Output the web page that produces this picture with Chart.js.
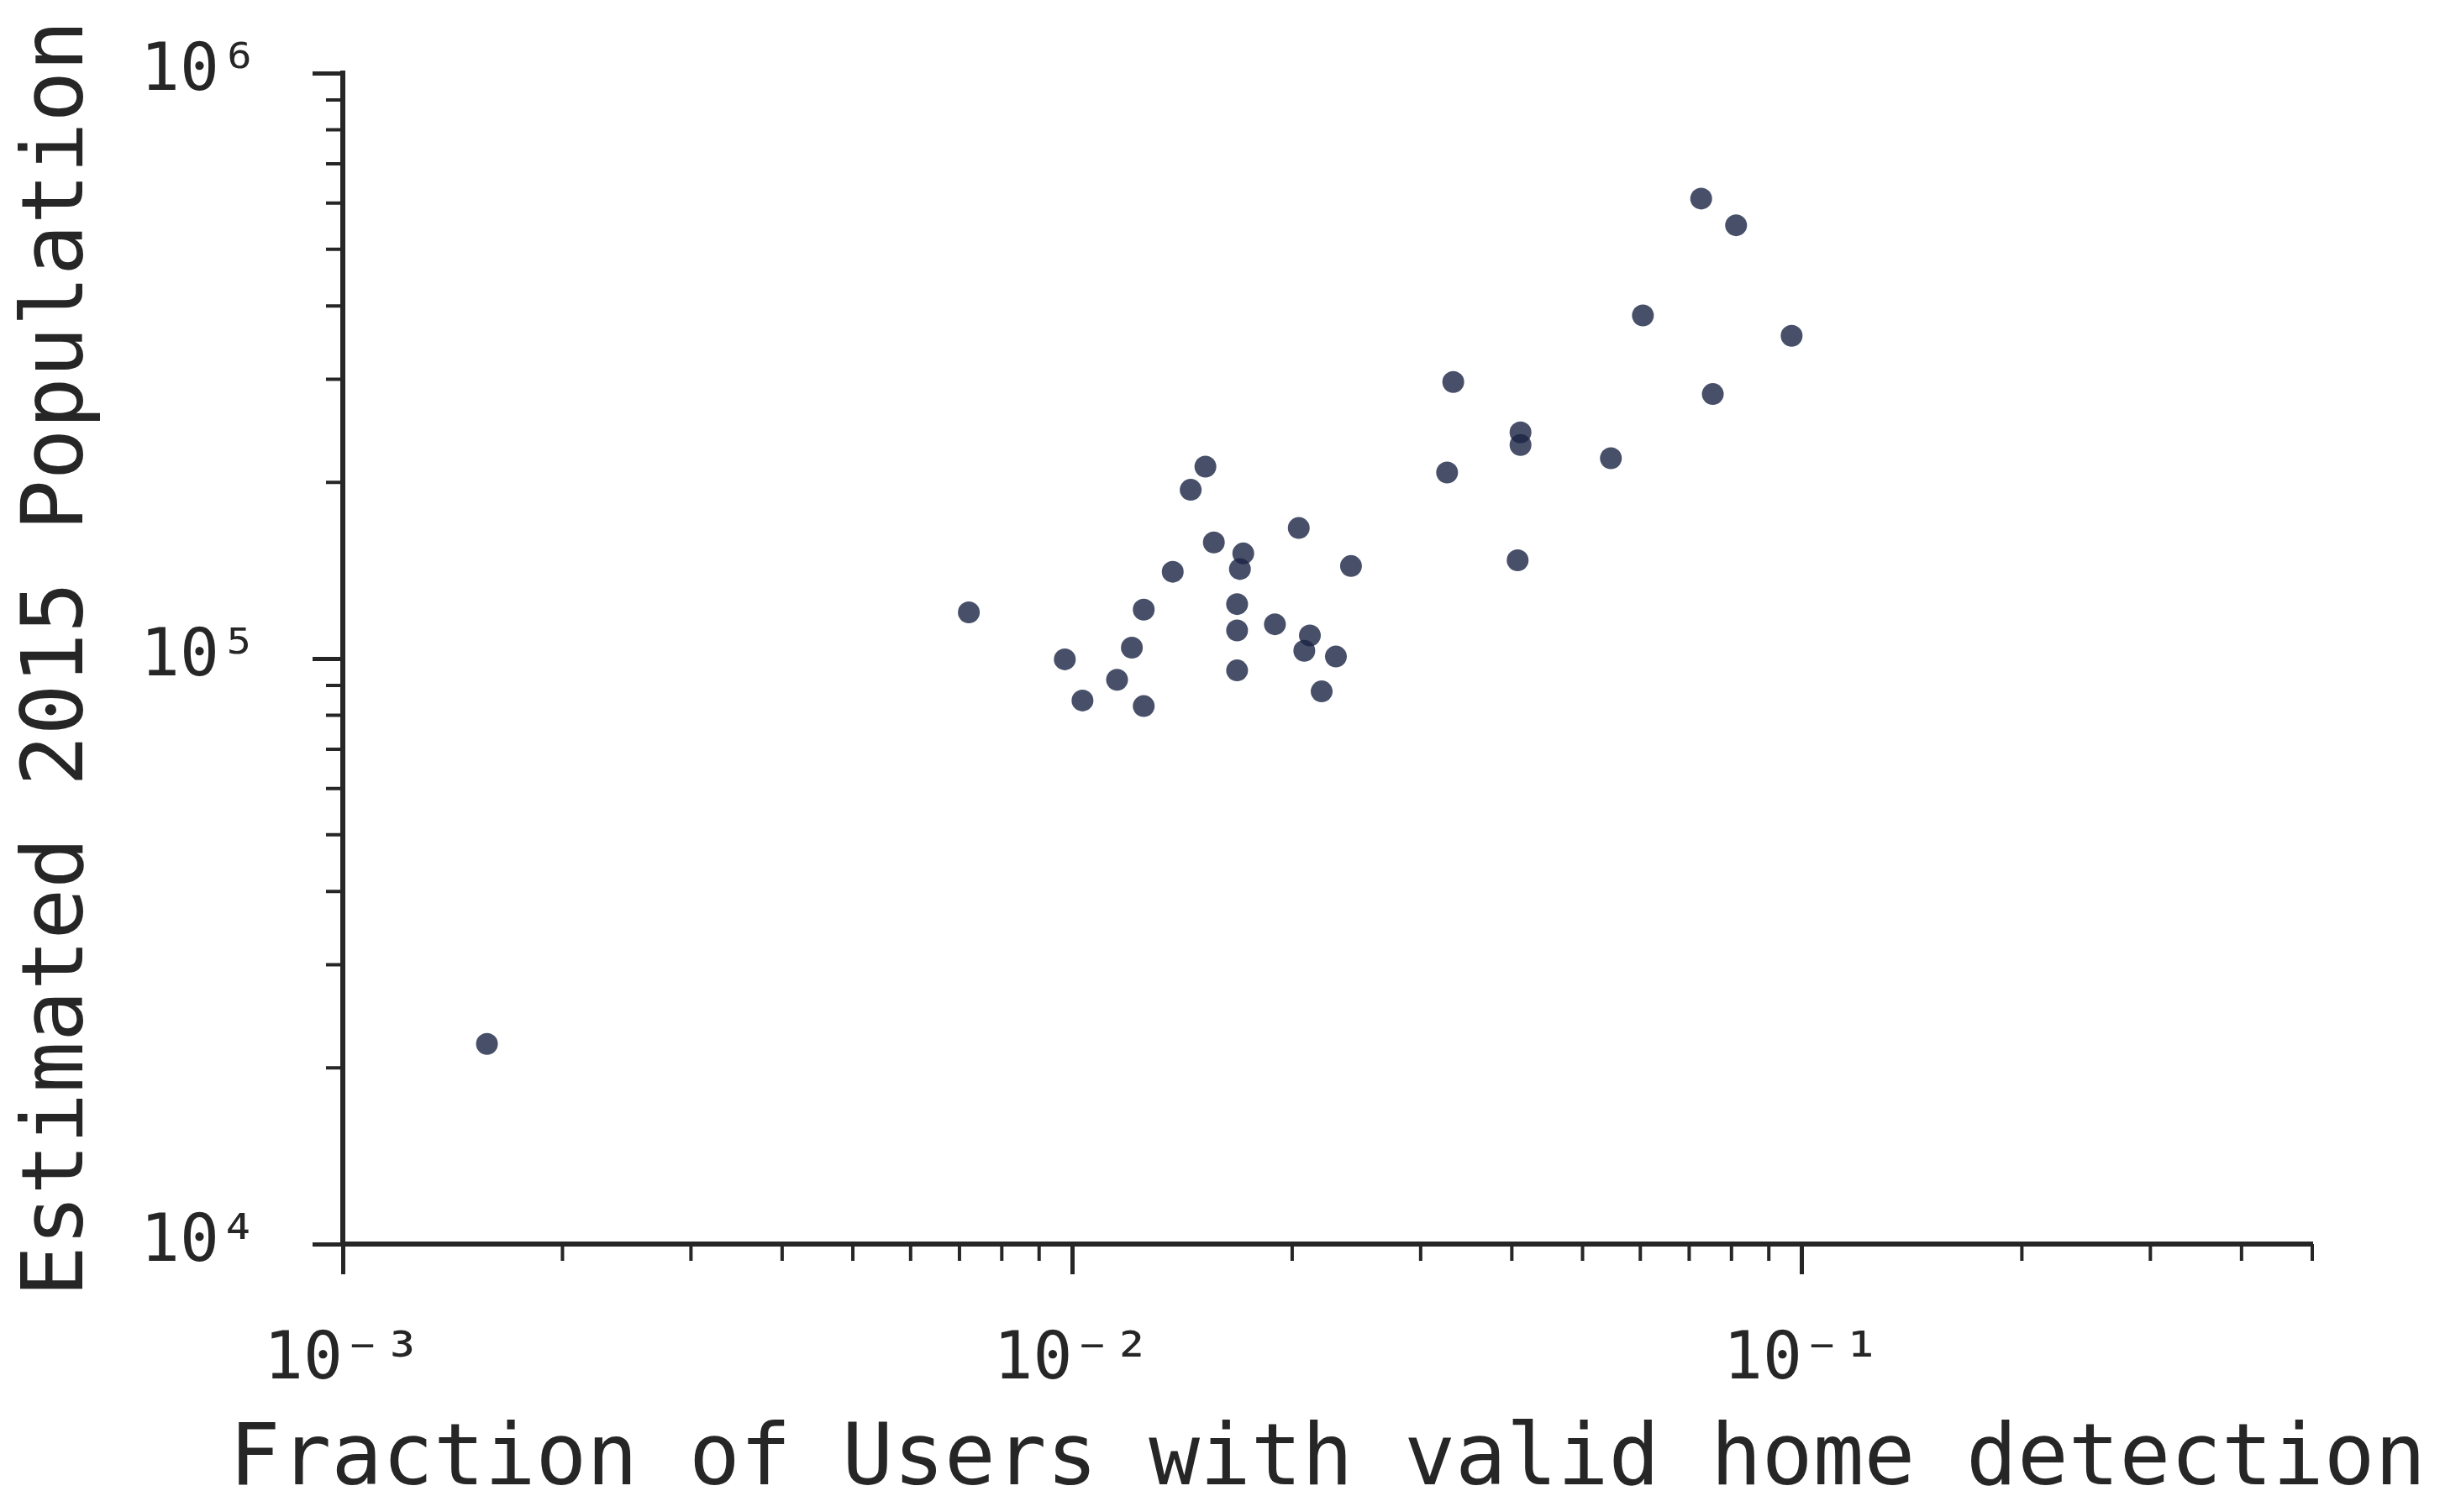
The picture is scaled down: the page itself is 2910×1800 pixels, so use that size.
<!DOCTYPE html>
<html>
<head>
<meta charset="utf-8">
<script src="https://cdn.jsdelivr.net/npm/chart.js@4.4.0/dist/chart.umd.min.js"></script>
<style>
    body { margin: 0; background: #ffffff; }
    #wrap { width: 2910px; height: 1800px; }
</style>
</head>
<body>
<div id="wrap"><canvas id="popChart" width="2910" height="1800"></canvas></div>
<script>
// values
const fraction = [0.001576, 0.00721, 0.00976, 0.01032, 0.01151, 0.01206, 0.01252, 0.01252, 0.01372, 0.01452,
    0.01521, 0.01562, 0.01681, 0.01681, 0.01681, 0.01696, 0.01714, 0.01894, 0.02042, 0.02078,
    0.02115, 0.02195, 0.02296, 0.02408, 0.03261, 0.03325, 0.04074, 0.04111, 0.04111, 0.05468,
    0.06049, 0.07270, 0.07542, 0.08117, 0.09672];
const population = [21970, 119900, 99700, 84800, 92000, 104400, 121200, 82950, 140700, 194200,
    212700, 157900, 123900, 111700, 95450, 142200, 151200, 114450, 167100, 103100,
    109500, 87880, 100800, 143900, 207900, 296700, 147200, 243400, 231600, 219900,
    385600, 610400, 283000, 549700, 355800];

const xTicks = [0.001, 0.01, 0.1];
const xTickLabels = ['10⁻³', '10⁻²', '10⁻¹'];
const yTicks = [10000, 100000, 1000000];
const yTickLabels = ['10⁴', '10⁵', '10⁶'];
const minorSteps = [2, 3, 4, 5, 6, 7, 8, 9];
const xTitle = 'Fraction of Users with valid home detection';
const yTitle = 'Estimated 2015 Population';

const ink = '#262626';
const mono = 'DejaVu Sans Mono';

// matplotlib-style short minor ticks, placed through the scales
const minorTicks = {
    id: 'minorTicks',
    afterDraw(chart) {
        const ctx = chart.ctx;
        const xs = chart.scales.x;
        const ys = chart.scales.y;
        ctx.save();
        ctx.strokeStyle = ink;
        ctx.lineWidth = 4;
        ctx.beginPath();
        xTicks.forEach(function(d) {
            minorSteps.forEach(function(m) {
                const v = d * m;
                if (v > xs.max + 1e-12) return;
                const px = xs.getPixelForValue(v);
                ctx.moveTo(px, xs.top);
                ctx.lineTo(px, xs.top + 20);
            });
        });
        yTicks.forEach(function(d) {
            minorSteps.forEach(function(m) {
                const v = d * m;
                if (v > ys.max) return;
                const py = ys.getPixelForValue(v);
                ctx.moveTo(ys.right, py);
                ctx.lineTo(ys.right - 20, py);
            });
        });
        ctx.stroke();
        ctx.restore();
    }
};

// axis titles are wider than the axes, so Chart.js would squeeze them; draw them unsqueezed
const axisTitles = {
    id: 'axisTitles',
    afterDraw(chart) {
        const ctx = chart.ctx;
        const xs = chart.scales.x;
        const ys = chart.scales.y;
        ctx.save();
        ctx.fillStyle = ink;
        ctx.font = '101px "' + mono + '"';
        ctx.textAlign = 'center';
        ctx.textBaseline = 'alphabetic';
        ctx.fillText(xTitle, (xs.left + xs.right) / 2, xs.bottom - 33);
        ctx.translate(ys.left + 98, (ys.top + ys.bottom) / 2);
        ctx.rotate(-Math.PI / 2);
        ctx.fillText(yTitle, 0, 0);
        ctx.restore();
    }
};

const points = fraction.map(function(f, i) { return { x: f, y: population[i] }; });

new Chart(document.getElementById('popChart').getContext('2d'), {
    type: 'scatter',
    data: {
        datasets: [{
            data: points,
            backgroundColor: 'rgba(26, 36, 68, 0.8)',
            borderWidth: 0,
            pointRadius: 13,
            pointHoverRadius: 13
        }]
    },
    options: {
        responsive: false,
        animation: false,
        events: [],
        layout: { padding: { top: 87, right: 158, left: 0, bottom: 0 } },
        plugins: { legend: { display: false }, tooltip: { enabled: false } },
        scales: {
            x: {
                type: 'logarithmic',
                min: 0.001,
                max: 0.5,
                afterBuildTicks: function(scale) {
                    scale.ticks = xTicks.map(function(v) { return { value: v }; });
                },
                afterFit: function(scale) {
                    scale.height = 319;
                    scale.paddingLeft = 0;
                    scale.paddingRight = 0;
                },
                border: { display: true, color: ink, width: 6 },
                grid: { drawOnChartArea: false, drawTicks: true, tickLength: 36, tickWidth: 5, tickColor: ink },
                ticks: {
                    autoSkip: false,
                    maxRotation: 0,
                    padding: 57,
                    color: ink,
                    font: { family: mono, size: 78 },
                    callback: function(value) {
                        const i = xTicks.indexOf(value);
                        return i >= 0 ? xTickLabels[i] : '';
                    }
                },
                title: { display: false }
            },
            y: {
                type: 'logarithmic',
                min: 10000,
                max: 1000000,
                afterBuildTicks: function(scale) {
                    scale.ticks = yTicks.map(function(v) { return { value: v }; });
                },
                afterFit: function(scale) {
                    scale.width = 408;
                    scale.paddingTop = 0;
                    scale.paddingBottom = 0;
                },
                border: { display: true, color: ink, width: 6 },
                grid: { drawOnChartArea: false, drawTicks: true, tickLength: 36, tickWidth: 5, tickColor: ink },
                ticks: {
                    autoSkip: false,
                    padding: 64,
                    color: ink,
                    font: { family: mono, size: 78 },
                    callback: function(value) {
                        const i = yTicks.indexOf(value);
                        return i >= 0 ? yTickLabels[i] : '';
                    }
                },
                title: { display: false }
            }
        }
    },
    plugins: [minorTicks, axisTitles]
});
</script>
</body>
</html>
